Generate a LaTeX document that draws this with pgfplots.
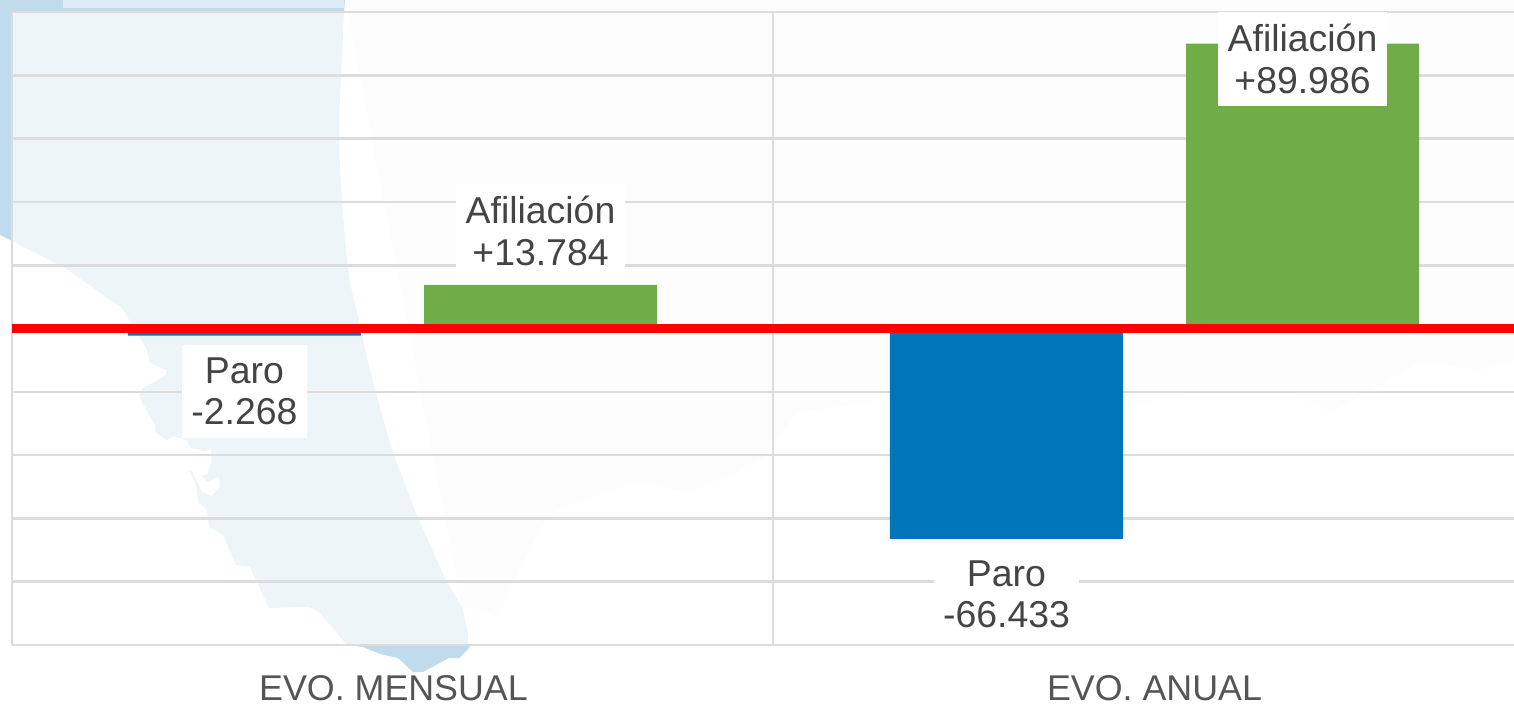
\documentclass[border=0pt]{standalone}
\usepackage{pgfplots}
\pgfplotsset{compat=1.18}
\usepackage{fontspec}
\setmainfont{Liberation Sans}
\definecolor{gridc}{HTML}{DCDCDC}
\definecolor{barblue}{HTML}{0075BA}
\definecolor{bargreen}{HTML}{70AD47}
\definecolor{lab}{HTML}{444444}
\definecolor{tick}{HTML}{555555}
\definecolor{mapdark}{HTML}{C0DCEC}
\definecolor{maptop}{HTML}{DEEDF5}
\definecolor{maplight}{HTML}{EDF5F9}
\definecolor{land}{HTML}{FDFDFD}
\begin{document}
\begin{tikzpicture}
\useasboundingbox (0,0) rectangle (757pt,-351.5pt);
\begin{scope}[x=0.5pt,y=-0.5pt]
\clip (0,0) rectangle (1514,703);
% faint land
\fill[land] (345,0) -- (1514,0) -- (1514,360) -- (1480,370) -- (1420,362) -- (1380,385) -- (1330,412) -- (1290,392) -- (1200,392) -- (1127,406) -- (1000,400) -- (880,400) -- (796,413) -- (765,457) -- (735,473) -- (689,493) -- (638,482) -- (556,510) -- (541,527) -- (510,590) -- (497,617) -- (482,610) -- (462,607) -- cycle;
% dark part of the map, outside the plot
\fill[mapdark] (0,0) -- (345,0) -- (344,12) -- (12,12) -- (12,241) -- (0,235) -- cycle;
\fill[maptop] (63,0) rectangle (344,8);
\fill[mapdark] (347,645) -- (363,647) -- (380,654) -- (398,658) -- (413,672) -- (423,672) -- (449,658) -- (459,658) -- (470,647) -- (468,645) -- cycle;
% light part of the map, inside the plot
\fill[maplight] (12,12) -- (344,12) -- (339,120) -- (339,150) -- (342,200) -- (346,250) -- (350,283) -- (362,333) -- (365,350) -- (375,390) -- (393,453) -- (418,518) -- (446,580) -- (462,607) -- (468,633) -- (468,645) -- (347,645) -- (319,612) -- (309,607) -- (269,608) -- (250,567) -- (236,565) -- (223,535) -- (209,527) -- (207,510) -- (198,502) -- (196,485) -- (190,472) -- (183,470) -- (192,471) -- (202,492) -- (212,496) -- (220,487) -- (219,477) -- (207,482) -- (202,475) -- (207,475) -- (211,463) -- (211,448) -- (204,451) -- (191,448) -- (186,440) -- (173,436) -- (167,440) -- (155,432) -- (155,425) -- (139,397) -- (143,388) -- (166,375) -- (166,370) -- (150,363) -- (147,350) -- (122,308) -- (65,268) -- (12,241) -- cycle;
\end{scope}
\begin{axis}[
  at={(6pt,-322.5pt)}, anchor=south west,
  scale only axis, width=751pt, height=316.5pt,
  xmin=-0.5, xmax=1.4737, ymin=-100000, ymax=100000,
  ytick={-80000,-60000,-40000,-20000,0,20000,40000,60000,80000},
  yticklabel=\empty, scaled y ticks=false,
  xtick={0.0013,1.0013}, xticklabels={EVO. MENSUAL,EVO. ANUAL},
  minor xtick={0.5},
  ymajorgrids, xminorgrids,
  grid style={gridc,line width=1.3pt},
  minor grid style={gridc,line width=1.3pt},
  tick style={draw=none},
  minor tick style={draw=none},
  axis x line*=bottom, axis y line*=left,
  axis line style={gridc,line width=1.3pt,-},
  xticklabel style={font=\fontsize{17.9}{20}\selectfont,text=tick,yshift=-27.5pt,anchor=base,inner sep=0pt,text depth=0pt},
  clip=false,
]
\addplot[gridc,line width=1.3pt,forget plot] coordinates {(-0.5,100000) (1.4737,100000)};
\addplot[ybar,bar width=116.5pt,bar shift=0pt,fill=barblue,draw=none] coordinates {(-0.1945,-2268) (0.8068,-66433)};
\addplot[ybar,bar width=116.5pt,bar shift=0pt,fill=bargreen,draw=none] coordinates {(0.1945,13784) (1.1958,89986)};
\addplot[red,line width=4.5pt] coordinates {(-0.5,0) (1.4737,0)};
\tikzset{lbl/.style={fill=white,text=lab,align=center,inner xsep=4.7pt,inner ysep=6.2pt,font=\fontsize{18.7}{20.7}\selectfont}}
\node[lbl] at (axis cs:0.1945,30900) {Afiliación\\+13.784};
\node[lbl] at (axis cs:1.1958,85150) {Afiliación\\+89.986};
\node[lbl] at (axis cs:-0.1945,-19900) {Paro\\-2.268};
\node[lbl] at (axis cs:0.8068,-83900) {Paro\\-66.433};
\end{axis}
\end{tikzpicture}
\end{document}
